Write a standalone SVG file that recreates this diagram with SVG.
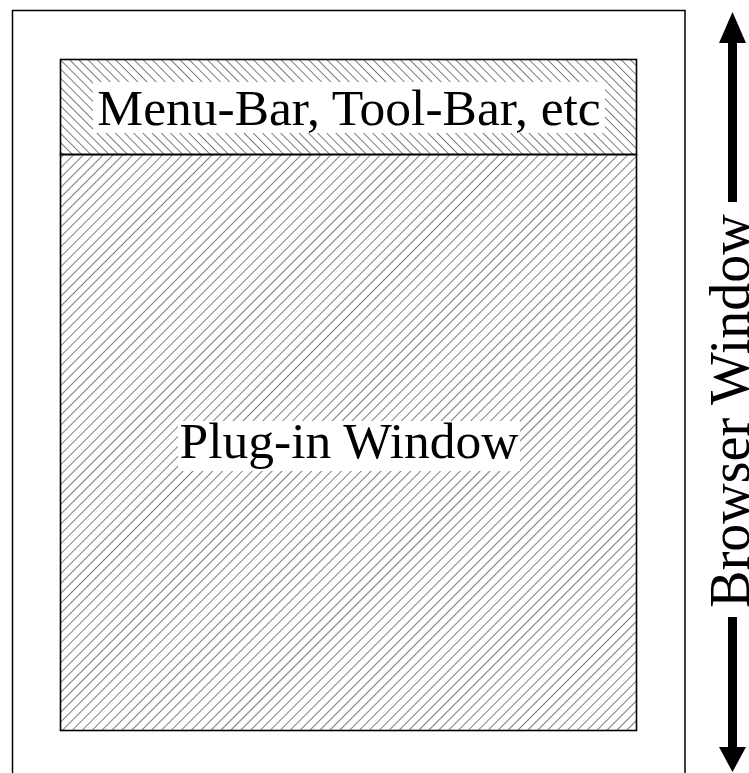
<svg xmlns="http://www.w3.org/2000/svg" width="749" height="773" viewBox="0 0 749 773">
  <style>
    .frame { fill: none; stroke: #000; stroke-width: 1.5; }
    .label { font-family: "Liberation Serif", "Times New Roman", serif; font-size: 51.5px; fill: #000; }
    .pad { fill: #fff; stroke: none; }
    .shaft { stroke: #000; stroke-width: 9; }
  </style>
  <defs>
    <pattern id="hatchBack" patternUnits="userSpaceOnUse" width="6.5" height="6.5" patternTransform="rotate(-45)">
      <line x1="0" y1="0" x2="0" y2="6.5" stroke="#111" stroke-width="1.1"/>
    </pattern>
    <pattern id="hatchFwd" patternUnits="userSpaceOnUse" width="7" height="7" patternTransform="rotate(45)">
      <line x1="0" y1="0" x2="0" y2="7" stroke="#111" stroke-width="1.1"/>
    </pattern>
  </defs>

  <!-- browser window outline -->
  <g id="browser">
    <rect class="frame" x="12.5" y="10.5" width="672.5" height="780"/>
  </g>

  <!-- menu / tool bar strip -->
  <g id="menubar">
    <rect x="60.5" y="59.5" width="576" height="95" fill="url(#hatchBack)" stroke="#000" stroke-width="1.6"/>
    <rect class="pad" x="93" y="82" width="512" height="51"/>
    <text class="label" x="349" y="125" text-anchor="middle">Menu-Bar, Tool-Bar, etc</text>
  </g>

  <!-- plug-in area -->
  <g id="plugin">
    <rect x="60.5" y="154.5" width="576" height="576" fill="url(#hatchFwd)" stroke="#000" stroke-width="1.6"/>
    <rect class="pad" x="178" y="421" width="342" height="50"/>
    <text class="label" x="349" y="458" text-anchor="middle">Plug-in Window</text>
  </g>

  <!-- height dimension arrow -->
  <g id="connectors">
    <line class="shaft" x1="732.5" y1="40" x2="732.5" y2="202"/>
    <polygon points="732.5,12 719,43 746,43" fill="#000"/>
    <line class="shaft" x1="732.5" y1="617" x2="732.5" y2="750"/>
    <polygon points="732.5,772 719,747 746,747" fill="#000"/>
  </g>

  <g id="dimension-label">
    <text class="label" x="0" y="0" text-anchor="middle" style="font-size:56px" transform="translate(749,411) rotate(-90)">Browser Window</text>
  </g>
</svg>
